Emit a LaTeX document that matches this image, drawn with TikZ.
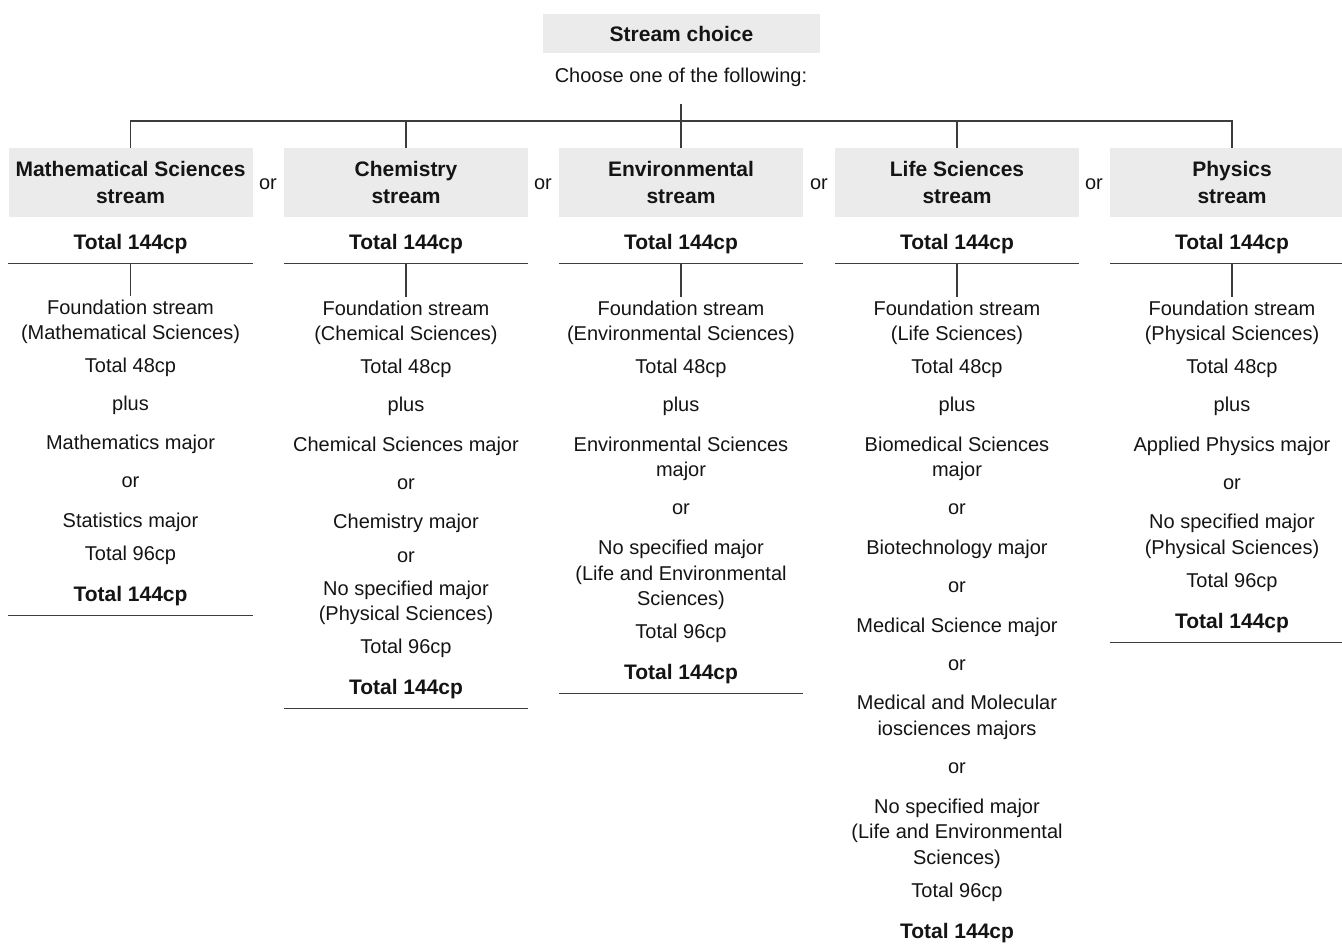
\documentclass[tikz,border=0pt]{standalone}
\usepackage{fontspec}
\setmainfont{Liberation Sans}
\usepackage{xcolor}
\usepackage{tikz}
\usetikzlibrary{positioning,calc}
\definecolor{boxgray}{HTML}{EBEBEB}
\definecolor{linegray}{HTML}{3C3C3C}
\definecolor{inkblack}{HTML}{141414}

\begin{document}
\begin{tikzpicture}[
    x=1pt, y=-1pt,
    every node/.style={text=inkblack},
    head/.style={fill=boxgray, minimum width=277pt, minimum height=39pt, inner sep=0pt, font=\fontsize{21}{27}\selectfont\bfseries},
    stream/.style={fill=boxgray, minimum width=244pt, minimum height=69pt, inner sep=0pt, align=center, font=\fontsize{21}{27}\selectfont\bfseries},
    total/.style={minimum width=244pt, minimum height=42pt, inner sep=0pt, text height=15pt, text depth=0pt, font=\fontsize{21}{27}\selectfont\bfseries},
    txt/.style={anchor=base, yshift=-7pt, font=\fontsize{20}{25}\selectfont},
    rule/.style={draw=linegray, line width=1.2pt},
]
\useasboundingbox (0,0) rectangle (1342,946);
\clip (0,0) rectangle (1342,946);

% Stream choice
\node[head] (choice) at (681.5,33.5) {Stream choice};
\node[txt] (choose) at (681,75) {Choose one of the following:};
\coordinate (drop) at (681,104);
\coordinate (bar) at (681,121);

% Streams
\node[stream] (mbox) at (130.5,182.5) {Mathematical Sciences\\stream};
\node[stream] (cbox) at (406,182.5) {Chemistry\\stream};
\node[stream] (ebox) at (681,182.5) {Environmental\\stream};
\node[stream] (lbox) at (957,182.5) {Life Sciences\\stream};
\node[stream] (pbox) at (1232,182.5) {Physics\\stream};
\node[txt] (or1) at (268,182) {or};
\node[txt] (or2) at (543,182) {or};
\node[txt] (or3) at (819,182) {or};
\node[txt] (or4) at (1094,182) {or};

% Branches
\draw[rule] (drop) -- (ebox.north);
\draw[rule] (mbox.north) |- (bar) -| (pbox.north);
\draw[rule] (cbox.north) -- (cbox.north |- bar);
\draw[rule] (lbox.north) -- (lbox.north |- bar);

% Stream totals
\node[total] (mtot) at (130.5,242) {Total 144cp};
\node[total] (ctot) at (406,242) {Total 144cp};
\node[total] (etot) at (681,242) {Total 144cp};
\node[total] (ltot) at (957,242) {Total 144cp};
\node[total] (ptot) at (1232,242) {Total 144cp};
\foreach \n in {mtot,ctot,etot,ltot,ptot}
  \draw[rule] (\n.south west) -- (\n.south east);

% Mathematical Sciences
\foreach \y/\entry [count=\i] in {307/Foundation stream, 332/(Mathematical Sciences), 365/Total 48cp, 403/plus, 442/Mathematics major, 480/or, 520/Statistics major, 553/Total 96cp}
  \node[txt] (m\i) at (130.5,\y) {\entry};
\node[total] (mend) at (130.5,594) {Total 144cp};
\draw[rule] (mend.south west) -- (mend.south east);
\draw[rule] (mtot.south) -- (m1.north);

% Chemistry
\foreach \y/\entry [count=\i] in {308/Foundation stream, 333/(Chemical Sciences), 366/Total 48cp, 404/plus, 444/Chemical Sciences major, 482/or, 521/Chemistry major, 555/or, 588/No specified major, 613/(Physical Sciences), 646/Total 96cp}
  \node[txt] (c\i) at (406,\y) {\entry};
\node[total] (cend) at (406,687) {Total 144cp};
\draw[rule] (cend.south west) -- (cend.south east);
\draw[rule] (ctot.south) -- (c1.north);

% Environmental
\foreach \y/\entry [count=\i] in {308/Foundation stream, 333/(Environmental Sciences), 366/Total 48cp, 404/plus, 444/Environmental Sciences, 469/major, 507/or, 547/No specified major, 573/(Life and Environmental, 598/Sciences), 631/Total 96cp}
  \node[txt] (e\i) at (681,\y) {\entry};
\node[total] (eend) at (681,672) {Total 144cp};
\draw[rule] (eend.south west) -- (eend.south east);
\draw[rule] (etot.south) -- (e1.north);

% Life Sciences
\foreach \y/\entry [count=\i] in {308/Foundation stream, 333/(Life Sciences), 366/Total 48cp, 404/plus, 444/Biomedical Sciences, 469/major, 507/or, 547/Biotechnology major, 585/or, 625/Medical Science major, 663/or, 702/Medical and Molecular, 728/iosciences majors, 766/or, 806/No specified major, 831/(Life and Environmental, 857/Sciences), 890/Total 96cp}
  \node[txt] (l\i) at (957,\y) {\entry};
\node[total] (lend) at (957,931) {Total 144cp};
\draw[rule] (ltot.south) -- (l1.north);

% Physics
\foreach \y/\entry [count=\i] in {308/Foundation stream, 333/(Physical Sciences), 366/Total 48cp, 404/plus, 444/Applied Physics major, 482/or, 521/No specified major, 547/(Physical Sciences), 580/Total 96cp}
  \node[txt] (p\i) at (1232,\y) {\entry};
\node[total] (pend) at (1232,621) {Total 144cp};
\draw[rule] (pend.south west) -- (pend.south east);
\draw[rule] (ptot.south) -- (p1.north);
\end{tikzpicture}
\end{document}
